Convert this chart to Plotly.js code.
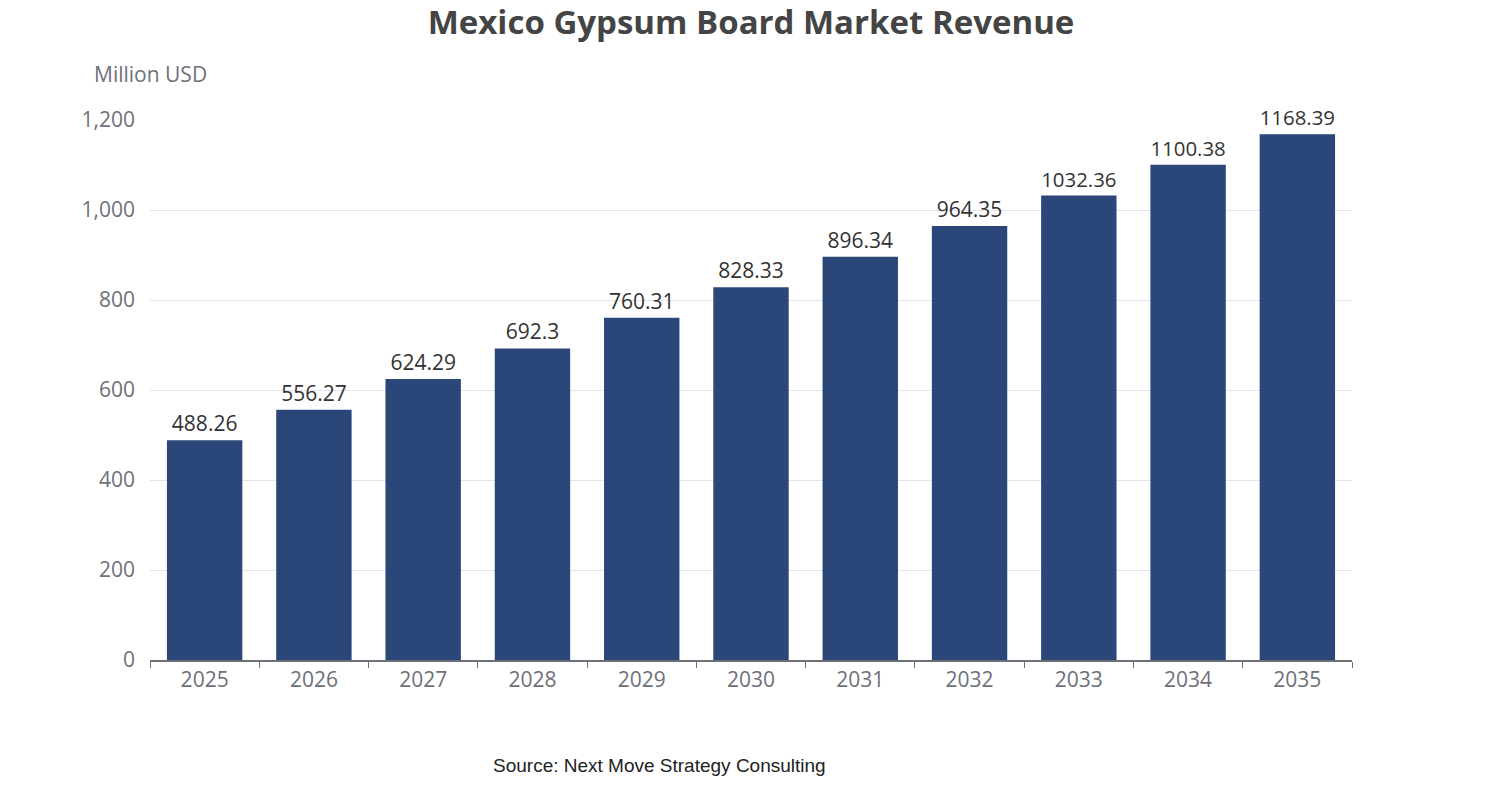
<!DOCTYPE html>
<html>
<head>
<meta charset="utf-8">
<script src="https://cdn.plot.ly/plotly-3.0.1.min.js"></script>
<style>body{margin:0;background:#fff}</style>
</head>
<body>
<div id="chart" style="width:1502px;height:800px"></div>
<script>
const years = ['2025','2026','2027','2028','2029','2030','2031','2032','2033','2034','2035'];
const revenue = [488.26, 556.27, 624.29, 692.3, 760.31, 828.33, 896.34, 964.35, 1032.36, 1100.38, 1168.39];
const yTicks = [0, 200, 400, 600, 800, 1000, 1200];

const trace = {
    x: years,
    y: revenue,
    type: 'bar',
    marker: { color: '#2B4779' },
    text: revenue.map(String),
    textposition: 'outside',
    textfont: { family: 'Open Sans, sans-serif', size: 21, color: '#333' },
    cliponaxis: false,
    hoverinfo: 'x+y',
};

const layout = {
    width: 1502,
    height: 800,
    margin: { l: 150, r: 150, t: 120, b: 140 },
    plot_bgcolor: '#fff',
    paper_bgcolor: '#fff',
    bargap: 0.31,
    showlegend: false,
    title: {
        text: '<b>Mexico Gypsum Board Market Revenue</b>',
        x: 0.5, xanchor: 'center', y: 0.972, yanchor: 'middle',
        font: { family: 'Open Sans, sans-serif', size: 33, color: '#444' },
    },
    xaxis: {
        type: 'category',
        showline: true, linecolor: '#6E7079', linewidth: 1.5,
        ticks: 'outside', tickcolor: '#6E7079', ticklen: 6,
        tickson: 'boundaries',
        tickfont: { family: 'Open Sans, sans-serif', size: 21, color: '#6E7079' },
        fixedrange: true,
    },
    yaxis: {
        range: [0, 1200],
        tickvals: yTicks,
        tickformat: ',',
        gridcolor: '#E0E6F1', gridwidth: 1,
        zeroline: false, showline: false,
        ticks: '', ticklabelstandoff: 14,
        tickfont: { family: 'Open Sans, sans-serif', size: 21, color: '#6E7079' },
        fixedrange: true,
    },
    annotations: [
        { text: 'Million USD', xref: 'paper', yref: 'paper', x: 0, y: 1.085, xanchor: 'center', yanchor: 'middle',
          showarrow: false, font: { family: 'Open Sans, sans-serif', size: 21, color: '#6E7079' } },
        { text: 'Source: Next Move Strategy Consulting', xref: 'paper', yref: 'paper', x: 0.424, y: -0.195,
          xanchor: 'center', yanchor: 'middle', showarrow: false,
          font: { family: 'Liberation Sans, Arial, sans-serif', size: 19, color: '#222' } },
    ],
};

Plotly.newPlot('chart', [trace], layout, { displayModeBar: false, responsive: false });
</script>
</body>
</html>
